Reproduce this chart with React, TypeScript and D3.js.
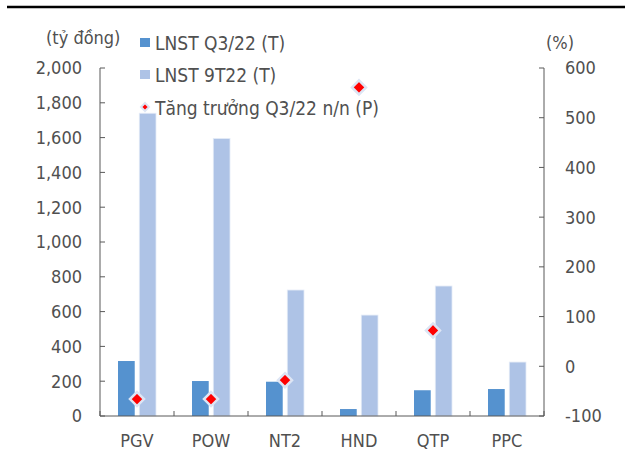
import React from "react";
import * as d3 from "d3";

const categories = ["PGV", "POW", "NT2", "HND", "QTP", "PPC"];
const lnstQ3 = [316, 201, 197, 40, 148, 155];
const lnst9T = [1740, 1595, 724, 580, 747, 310];
const growth: (number | null)[] = [-66, -66, -28, 561, 72, null];
const leftTicks = [0, 200, 400, 600, 800, 1000, 1200, 1400, 1600, 1800, 2000];
const rightTicks = [-100, 0, 100, 200, 300, 400, 500, 600];
const seriesNames = ["LNST Q3/22 (T)", "LNST 9T22 (T)", "Tăng trưởng Q3/22 n/n (P)"];

const W = 625, H = 456;
const left = 100, right = 544, top = 68, bottom = 416;
const DARK = "#5592cf", LIGHT = "#aec3e6", RED = "#ff0000", DBORDER = "#dde5f4";
const TXT = "#505050", AX = "#595959";
const FONT = "'DejaVu Sans Condensed', 'DejaVu Sans', Verdana, sans-serif";

export default function App() {
  const x = d3.scaleBand<string>().domain(categories).range([left, right]).paddingInner(0).paddingOuter(0);
  const bw = x.bandwidth();
  const x1 = d3.scaleBand<string>().domain(["q3", "9t"]).range([bw / 2 - 19, bw / 2 + 19]).paddingInner(0.214).paddingOuter(0);
  const yL = d3.scaleLinear().domain([0, 2000]).range([bottom, top]);
  const yR = d3.scaleLinear().domain([-100, 600]).range([bottom, top]);
  const fmt = d3.format(",");
  const diamond = d3.symbol().type(d3.symbolDiamond2).size(125)() as string;
  const smallDiamond = d3.symbol().type(d3.symbolDiamond2).size(40)() as string;

  return (
    <svg width={W} height={H} style={{ position: "absolute", left: 0, top: 0, background: "#fff" }} fontFamily={FONT} fontStretch="condensed">
      <line x1={7} x2={625} y1={7} y2={7} stroke="#000" strokeWidth={2.5} />
      {/* bars */}
      {categories.map((c, i) => (
        <g key={c} transform={`translate(${x(c)},0)`}>
          <rect x={x1("q3")} y={yL(lnstQ3[i])} width={x1.bandwidth()} height={yL(0) - yL(lnstQ3[i])} fill={DARK} />
          <rect x={x1("9t")} y={yL(lnst9T[i])} width={x1.bandwidth()} height={yL(0) - yL(lnst9T[i])} fill={LIGHT} stroke="#e4ebf7" strokeWidth={0.8} />
        </g>
      ))}
      {/* axes */}
      <line x1={left} x2={left} y1={top} y2={bottom} stroke={AX} strokeWidth={1} />
      <line x1={right} x2={right} y1={top} y2={bottom} stroke={AX} strokeWidth={1} />
      <line x1={left} x2={right} y1={bottom} y2={bottom} stroke={AX} strokeWidth={1} />
      {leftTicks.map((t) => (
        <g key={"l" + t}>
          <line x1={left} x2={left + 5} y1={yL(t)} y2={yL(t)} stroke={AX} />
          <text x={82} y={yL(t)} dy="0.36em" textAnchor="end" fontSize={18} fill={TXT}>{fmt(t)}</text>
        </g>
      ))}
      {rightTicks.map((t) => (
        <g key={"r" + t}>
          <line x1={right - 5} x2={right} y1={yR(t)} y2={yR(t)} stroke={AX} />
          <text x={565} y={yR(t)} dy="0.36em" textAnchor="start" fontSize={18} fill={TXT}>{t}</text>
        </g>
      ))}
      {d3.range(categories.length + 1).map((i) => (
        <line key={"xt" + i} x1={left + i * bw} x2={left + i * bw} y1={bottom} y2={bottom - 5} stroke={AX} />
      ))}
      {categories.map((c) => (
        <text key={"xl" + c} x={(x(c) as number) + bw / 2} y={447} textAnchor="middle" fontSize={18} fill={TXT}>{c}</text>
      ))}
      {/* growth diamonds */}
      {categories.map((c, i) =>
        growth[i] == null ? null : (
          <path key={"d" + c} d={diamond} transform={`translate(${(x(c) as number) + bw / 2},${yR(growth[i] as number)})`} fill={RED} stroke={DBORDER} strokeWidth={2.5} />
        )
      )}
      {/* titles */}
      <text x={46} y={44} fontSize={18} fill={TXT}>(tỷ đồng)</text>
      <text x={546} y={49} fontSize={18} fill={TXT}>(%)</text>
      {/* legend */}
      <rect x={140} y={38} width={10} height={9} fill={DARK} />
      <text x={155} y={50} fontSize={19} fill={TXT}>{seriesNames[0]}</text>
      <rect x={140} y={70} width={10} height={9} fill={LIGHT} />
      <text x={155} y={82} fontSize={19} fill={TXT}>{seriesNames[1]}</text>
      <path d={smallDiamond} transform="translate(145,107)" fill={RED} stroke={DBORDER} strokeWidth={2} />
      <text x={155} y={115} fontSize={19} fill={TXT}>{seriesNames[2]}</text>
    </svg>
  );
}
